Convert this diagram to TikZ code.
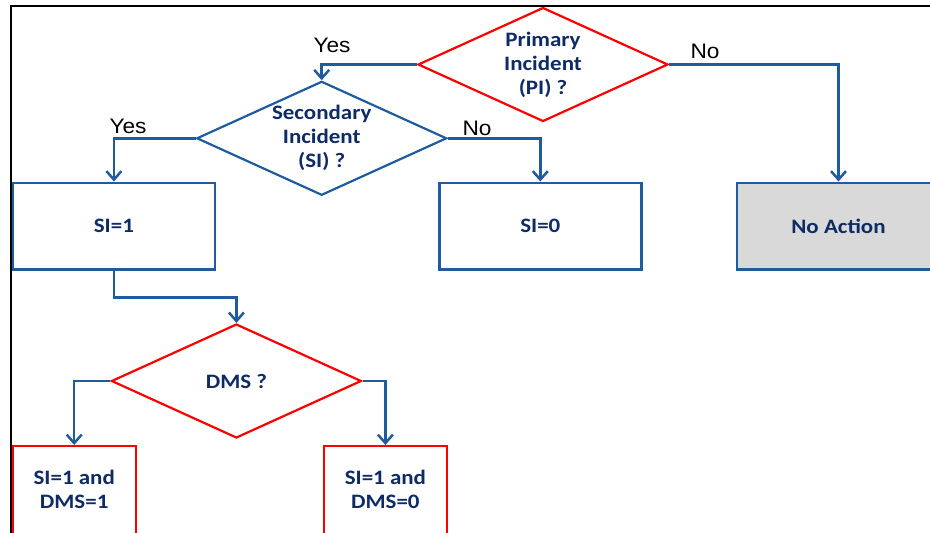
\documentclass[tikz,border=0pt]{standalone}
\usepackage{fontspec}
\setmainfont{Carlito}
\newfontfamily\boxfont[FakeStretch=1.12]{Carlito}
\newfontfamily\lblfont[FakeStretch=1.08]{Liberation Sans}
\usetikzlibrary{shapes.geometric,arrows.meta}
\definecolor{lineblue}{HTML}{1F5C9E}
\definecolor{textnavy}{HTML}{0E2B66}
\definecolor{boxgray}{HTML}{D9D9D9}
\definecolor{alarmred}{HTML}{FF0000}
\begin{document}
\begin{tikzpicture}[x=1pt,y=-1pt,
  btext/.style={font=\boxfont\bfseries\fontsize{20.5}{24}\selectfont, text=textnavy, align=center},
  lbl/.style={font=\lblfont\fontsize{21}{24}\selectfont, text=black, inner sep=0pt},
  decision/.style={diamond, aspect=2.19, line width=2.2pt, minimum width=250pt, minimum height=114pt, inner sep=0pt, btext},
  bluebox/.style={rectangle, draw=lineblue, line width=2.4pt, minimum width=202pt, minimum height=86.6pt, btext},
  redbox/.style={rectangle, draw=alarmred, line width=2.4pt, minimum width=123pt, minimum height=100pt, inner sep=0pt},
  conn/.style={draw=lineblue, line width=2.5pt, -{Straight Barb[length=8.5pt,width=15pt,line width=2.5pt]}}
]
\useasboundingbox (0,0) rectangle (930,533);
\clip (0,0) rectangle (930,533);
\fill[white] (0,0) rectangle (930,533);

% decisions
\node[decision, draw=alarmred] (pi) at (543,64.5) {Primary\\Incident\\(PI) ?};
\node[decision, draw=lineblue] (si) at (321.7,138.3) {Secondary\\Incident\\(SI) ?};
\node[decision, draw=alarmred] (dms) at (236.4,381) {DMS ?};

% boxes
\node[bluebox] (s1) at (113.9,226) {SI=1};
\node[bluebox] (s0) at (540.3,226) {SI=0};
\node[bluebox, fill=boxgray, minimum width=203pt] (na) at (838.5,226) {No Action};
\node[redbox, anchor=north] (b1) at (74.2,445) {};
\node[redbox, anchor=north] (b0) at (385.4,445) {};
\node[btext] (t1) at (74.2,489) {SI=1 and\\DMS=1};
\node[btext] (t0) at (385.4,489) {SI=1 and\\DMS=0};

% connectors
\draw[conn] (pi.west) -| (si.north);
\draw[conn] (pi.east) -| (na.north);
\draw[conn] (si.west) -| (s1.north);
\draw[conn] (si.east) -| (s0.north);
\draw[conn] (s1.south) -- ++(0,27) -| (dms.north);
\draw[conn] (dms.west) -| (b1.north);
\draw[conn] (dms.east) -| (b0.north);

% labels
\node[lbl] (yes1) at (332,45) {Yes};
\node[lbl] (no1) at (705,51) {No};
\node[lbl] (yes2) at (128,126) {Yes};
\node[lbl] (no2) at (477,128) {No};

% frame
\draw[black, line width=2pt] (10.6,545) -- (10.6,5.5) -- (945,5.5);
\end{tikzpicture}
\end{document}
